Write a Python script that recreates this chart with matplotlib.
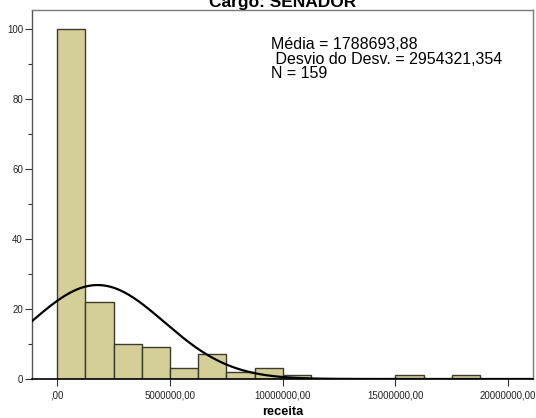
import numpy as np
import matplotlib
matplotlib.use("Agg")
import matplotlib.pyplot as plt
from matplotlib.ticker import MultipleLocator, FixedLocator

# Histogram of campaign revenue ("receita") for senate candidates
bin_edges = [0, 1250000, 2500000, 3750000, 5000000, 6250000, 7500000, 8750000,
             10000000, 11250000, 12500000, 13750000, 15000000, 16250000,
             17500000, 18750000, 20000000]
counts = [100, 22, 10, 9, 3, 7, 2, 3, 1, 0, 0, 0, 1, 0, 1, 0]
mean_val = 1788693.88
std_val = 2954321.354
n_obs = 159
x_ticks = [0, 5000000, 10000000, 15000000, 20000000]
x_tick_labels = [",00", "5000000,00", "10000000,00", "15000000,00", "20000000,00"]
y_ticks = [0, 20, 40, 60, 80, 100]
stats_lines = ["Média = 1788693,88", " Desvio do Desv. = 2954321,354", "N = 159"]

plt.rcParams['font.family'] = ['Liberation Sans', 'DejaVu Sans']

W, H = 536, 418
fig = plt.figure(figsize=(W / 100, H / 100), dpi=100)
ax_l, ax_r, ax_t, ax_b = 32, 533, 10, 379
ax = fig.add_axes([ax_l / W, 1 - ax_b / H, (ax_r - ax_l) / W, (ax_b - ax_t) / H])

lefts = np.array(bin_edges[:-1])
widths = np.diff(bin_edges)
ax.bar(lefts, counts, width=widths, align='edge', color='#d4cf99',
       edgecolor='#3b3b2e', linewidth=1.0, zorder=2)

# fitted normal curve scaled to counts
bw = widths[0]
xmin, xmax = -1120000, 21100000
xs = np.linspace(xmin, xmax, 600)
ys = n_obs * bw / (std_val * np.sqrt(2 * np.pi)) * np.exp(-0.5 * ((xs - mean_val) / std_val) ** 2)
ax.plot(xs, ys, color='black', linewidth=1.6, zorder=3)

ax.set_xlim(xmin, xmax)
ax.set_ylim(0, 105.4)

ax.xaxis.set_major_locator(FixedLocator(x_ticks))
ax.set_xticklabels(x_tick_labels)
ax.yaxis.set_major_locator(FixedLocator(y_ticks))
ax.yaxis.set_minor_locator(MultipleLocator(10))
ax.tick_params(axis='both', which='major', direction='out', length=5, width=0.8,
               labelsize=7, color='#333333', pad=1.5, labelcolor='#222222')
ax.tick_params(axis='y', which='minor', direction='out', length=3, width=0.8,
               color='#333333')
ax.tick_params(axis='x', pad=3)

for side in ['top', 'right']:
    ax.spines[side].set_color('#7a7a7a')
    ax.spines[side].set_linewidth(1.0)
ax.spines['left'].set_color('#555555')
ax.spines['left'].set_linewidth(1.0)
ax.spines['bottom'].set_color('black')
ax.spines['bottom'].set_linewidth(1.2)

cx = (ax_l + ax_r) / 2 / W
fig.text(cx, 1 - 415 / H, 'receita', ha='center', va='baseline',
         fontsize=9.2, fontweight='bold')

fig.text(cx, 1 - 7 / H, 'Cargo: SENADOR', ha='center', va='baseline',
         fontsize=12.5, fontweight='bold')

for line, base in zip(stats_lines, [49, 63.5, 78]):
    fig.text(271 / W, 1 - base / H, line, ha='left', va='baseline', fontsize=11.5)

fig.savefig('out.png', dpi=100)
